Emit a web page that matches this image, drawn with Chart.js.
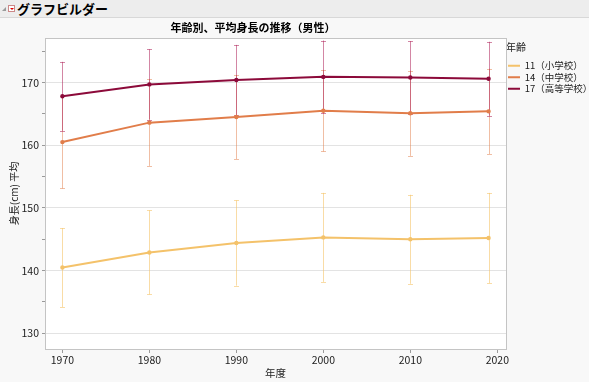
<!DOCTYPE html>
<html>
<head>
<meta charset="utf-8">
<script src="https://cdn.jsdelivr.net/npm/chart.js@4"></script>
<style>
  html, body { margin:0; padding:0; background:#F8F8F8; }
  #wrap { position:relative; width:589px; height:382px; overflow:hidden; }
  #hdr { position:absolute; left:0; top:0; width:589px; height:18px; background:#EDEDED; border-bottom:1px solid #D8D8D8; box-sizing:border-box; }
  #hdr .tri { position:absolute; left:2px; top:7px; width:0; height:0; border-left:4px solid transparent; border-bottom:4px solid #9a9a9a; }
  #hdr .ico { position:absolute; left:8px; top:5px; width:7px; height:7px; background:#fff; border:1px solid #c88; box-sizing:border-box; }
  #hdr .ico:after { content:''; position:absolute; left:1px; top:2px; border-left:2px solid transparent; border-right:2px solid transparent; border-top:2px solid #d00; }
  #hdr .t { position:absolute; left:17px; top:0px; font:bold 13px "Noto Sans CJK JP", sans-serif; line-height:18px; color:#000; }
  canvas { position:absolute; left:0; top:0; }
</style>
</head>
<body>
<div id="wrap">
  <canvas id="c" width="589" height="382"></canvas>
  <div id="hdr"><div class="tri"></div><div class="ico"></div><div class="t">グラフビルダー</div></div>
</div>
<script>
const chartTitle = '年齢別、平均身長の推移（男性）';
const years = [1970, 1980, 1990, 2000, 2010, 2019];
const seriesNames = ['11（小学校）', '14（中学校）', '17（高等学校）'];
const mean11 = [140.5, 142.9, 144.4, 145.3, 145.0, 145.2];
const sd11   = [6.3, 6.7, 6.8, 7.1, 7.1, 7.2];
const mean14 = [160.5, 163.6, 164.5, 165.5, 165.1, 165.4];
const sd14   = [7.4, 6.9, 6.7, 6.5, 6.8, 6.8];
const mean17 = [167.8, 169.7, 170.4, 170.9, 170.8, 170.6];
const sd17   = [5.5, 5.6, 5.6, 5.8, 5.8, 5.9];
const xTicks = [1970, 1980, 1990, 2000, 2010, 2020];
const yTicks = [130, 135, 140, 145, 150, 155, 160, 165, 170, 175];

const colors = ['#F4C26A', '#E17D4A', '#8C0A3A'];
const errColors = ['rgba(245,196,106,0.6)', 'rgba(226,125,74,0.5)', 'rgba(175,35,90,0.55)'];
const means = [mean11, mean14, mean17];
const sds = [sd11, sd14, sd17];

const FONT = '"Noto Sans CJK JP", "DejaVu Sans", sans-serif';

const datasets = means.map((m, i) => ({
  label: seriesNames[i],
  data: years.map((y, j) => ({x: y, y: m[j], sd: sds[i][j]})),
  borderColor: colors[i],
  backgroundColor: colors[i],
  borderWidth: 2,
  pointRadius: 1.2,
  pointHoverRadius: 1.2,
  tension: 0,
  errColor: errColors[i]
}));

const bgPlugin = {
  id: 'bg',
  beforeLayout(chart) {
    const lg = chart.legend;
    if (lg && !lg._patched) {
      const orig = lg.fit;
      lg.fit = function () { orig.call(this); this.width = 83; };
      lg._patched = true;
    }
  },
  beforeDraw(chart) {
    const {ctx, chartArea: a} = chart;
    ctx.save();
    ctx.fillStyle = '#FFFFFF';
    ctx.fillRect(a.left, a.top, a.right - a.left, a.bottom - a.top);
    ctx.restore();
  },
  afterDraw(chart) {
    const {ctx, chartArea: a} = chart;
    ctx.save();
    ctx.strokeStyle = '#C4C4C4';
    ctx.lineWidth = 1;
    ctx.strokeRect(Math.round(a.left) + 0.5, Math.round(a.top) + 0.5, Math.round(a.right - a.left), Math.round(a.bottom - a.top));
    // chart title, centred over the graph (axis + frame)
    ctx.fillStyle = '#000';
    ctx.font = 'bold 11px ' + FONT;
    ctx.textAlign = 'center';
    ctx.textBaseline = 'middle';
    ctx.fillText(chartTitle, a.right / 2, a.top - 10);
    ctx.restore();
  }
};

const errPlugin = {
  id: 'err',
  beforeDatasetsDraw(chart) {
    const ctx = chart.ctx;
    const xs = chart.scales.x, ys = chart.scales.y;
    ctx.save();
    ctx.lineWidth = 1;
    chart.data.datasets.forEach(ds => {
      ctx.strokeStyle = ds.errColor;
      ds.data.forEach(p => {
        const x = Math.round(xs.getPixelForValue(p.x)) + 0.5;
        const yt = ys.getPixelForValue(p.y + p.sd);
        const yb = ys.getPixelForValue(p.y - p.sd);
        ctx.beginPath();
        ctx.moveTo(x, yt); ctx.lineTo(x, yb);
        ctx.moveTo(x - 2.5, Math.round(yt) + 0.5); ctx.lineTo(x + 2.5, Math.round(yt) + 0.5);
        ctx.moveTo(x - 2.5, Math.round(yb) + 0.5); ctx.lineTo(x + 2.5, Math.round(yb) + 0.5);
        ctx.stroke();
      });
    });
    ctx.restore();
  }
};

new Chart(document.getElementById('c'), {
  type: 'line',
  data: { datasets },
  plugins: [bgPlugin, errPlugin],
  options: {
    responsive: false,
    animation: false,
    events: [],
    layout: { padding: { top: 38, left: 0, right: 0, bottom: 0 } },
    plugins: {
      tooltip: { enabled: false },
      title: { display: false },
      legend: {
        position: 'right',
        align: 'start',
        title: {
          display: true,
          text: '年齢',
          color: '#222',
          font: { family: FONT, size: 10 },
          padding: { top: 4, bottom: 5 },
          position: 'start'
        },
        labels: {
          color: '#222',
          font: { family: FONT, size: 9.5 },
          boxWidth: 12,
          boxHeight: 2,
          padding: 2,
          generateLabels(chart) {
            return chart.data.datasets.map((ds, i) => ({
              text: ds.label,
              fillStyle: ds.borderColor,
              strokeStyle: ds.borderColor,
              lineWidth: 0,
              fontColor: '#222',
              datasetIndex: i
            }));
          }
        }
      }
    },
    scales: {
      x: {
        type: 'linear',
        min: 1968,
        max: 2021,
        afterBuildTicks(scale) { scale.ticks = xTicks.map(v => ({value: v})); },
        afterFit(scale) { scale.height = 33; },
        ticks: {
          color: '#222',
          font: { family: FONT, size: 10.5 },
          maxRotation: 0,
          padding: 1,
          callback: v => String(v)
        },
        grid: { drawOnChartArea: false, drawTicks: true, tickLength: 4, color: '#9a9a9a' },
        border: { color: '#C4C4C4' },
        title: { display: true, text: '年度', color: '#222', font: { family: FONT, size: 10.5 }, padding: { top: 0, bottom: 3 } }
      },
      y: {
        type: 'linear',
        min: 127.5,
        max: 177.1,
        afterBuildTicks(scale) { scale.ticks = yTicks.map(v => ({value: v})); },
        afterFit(scale) { scale.width = 45; },
        ticks: {
          color: '#222',
          font: { family: FONT, size: 10.5 },
          padding: 3,
          callback: v => (v % 10 === 0 ? String(v) : '')
        },
        grid: {
          color: ctx => (ctx.tick && ctx.tick.value % 10 === 0 ? '#E3E3E3' : 'rgba(0,0,0,0)'),
          tickColor: '#9a9a9a',
          tickLength: 3,
          lineWidth: 1
        },
        border: { color: '#C4C4C4' },
        title: { display: true, text: '身長(cm) 平均', color: '#222', font: { family: FONT, size: 10 }, padding: { top: 8, bottom: 0 } }
      }
    }
  }
});
</script>
</body>
</html>
